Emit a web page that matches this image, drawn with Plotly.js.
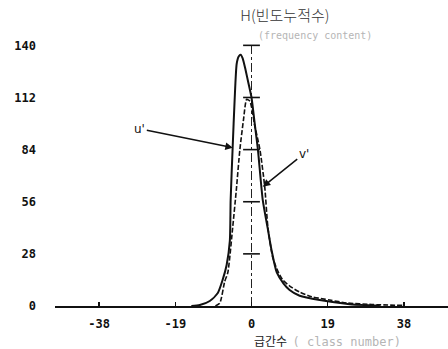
<!DOCTYPE html>
<html>
<head>
<meta charset="utf-8">
<script src="https://cdn.plot.ly/plotly-3.0.1.min.js"></script>
<style>
  html, body { margin: 0; padding: 0; background: #fff; }
  #chart { width: 448px; height: 349px; }
</style>
</head>
<body>
<div id="chart"></div>
<script>
// Class number (x) and cumulative frequency (y) for the two velocity components
const uClass = [-15, -12.9, -10.4, -8.4, -7.2, -6.2, -5.4, -5.2, -4.7, -4.2, -3.7, -3.2, -2.7, -2.2, -1.5, -0.8, 0, 0.8, 1.6, 2.8, 4.1, 5, 6.3, 8, 9.5, 12, 17, 24.5, 32];
const uFreq  = [0, 0.5, 2.7, 7, 14, 22, 35, 57, 85, 111, 130, 134, 135, 133, 127, 120, 112, 98, 84, 57, 41, 30, 18, 12, 8.6, 5.5, 3.2, 1, 0.2];

const vClass = [-9, -7.9, -6.7, -5.9, -4.7, -3.8, -2.9, -2, -1.2, -0.4, 0.8, 2.1, 3.3, 4.1, 5.3, 6.5, 7.8, 10, 12, 15, 19.5, 23.8, 30, 38];
const vFreq  = [0, 1.6, 13, 18, 42, 62, 84, 100, 111, 110, 97, 84, 64, 42, 26, 19, 14, 10, 7.5, 5, 3.2, 1.6, 0.8, 0.3];

// Axis ticks
const xTicks = [-38, -19, 0, 19, 38];
const xTickText = ['-38', '-19', '0', '19', '38'];
const yTicks = [0, 28, 56, 84, 112, 140];
const yTickText = ['0', '28', '56', '84', '112', '140'];

// Centre reference line and its scale marks
const centreX = [0, 0];
const centreY = [0, 140];
const markY = [28, 56, 84, 112, 140];

const traces = [
  {
    x: centreX, y: centreY, mode: 'lines', hoverinfo: 'skip',
    line: { color: '#222', width: 1, dash: 'dashdot' }
  },
  {
    x: markY.map(() => 0), y: markY, mode: 'markers', hoverinfo: 'skip',
    marker: { symbol: 'line-ew', size: 12, line: { color: '#111', width: 1.6 } }
  },
  {
    name: "u'", x: uClass, y: uFreq, mode: 'lines',
    line: { color: '#111', width: 2, shape: 'spline', smoothing: 0.6 }
  },
  {
    name: "v'", x: vClass, y: vFreq, mode: 'lines',
    line: { color: '#111', width: 1.6, dash: '5px,2px', shape: 'spline', smoothing: 0.6 }
  }
];

const monoFont = { family: 'DejaVu Sans Mono', size: 12, color: '#111', weight: 'bold' };

const layout = {
  width: 448, height: 349,
  margin: { l: 55, r: 0, t: 15, b: 43 },
  paper_bgcolor: '#fff', plot_bgcolor: '#fff',
  showlegend: false,
  title: {
    text: 'H(빈도누적수)',
    font: { family: 'Noto Sans CJK KR', size: 15, color: '#333', weight: 300 },
    x: 0.636, xanchor: 'center', xref: 'container',
    y: 0.955, yanchor: 'middle', yref: 'container'
  },
  xaxis: {
    range: [-49, 49],
    tickvals: xTicks, ticktext: xTickText,
    ticks: 'inside', ticklen: 4, tickwidth: 1.5, tickcolor: '#111',
    showline: true, linecolor: '#111', linewidth: 1.5,
    showgrid: false, zeroline: false,
    tickfont: monoFont, ticklabelstandoff: 6
  },
  yaxis: {
    range: [0, 156.3],
    tickvals: yTicks, ticktext: yTickText,
    ticks: '', showline: false, showgrid: false, zeroline: false,
    tickfont: monoFont, ticklabelstandoff: 18
  },
  annotations: [
    {
      x: -4.66, y: 85, xref: 'x', yref: 'y',
      text: "u'", showarrow: true, ax: -93, ay: -19,
      arrowhead: 2, arrowsize: 1, arrowwidth: 1.5, arrowcolor: '#111',
      font: { family: 'DejaVu Sans', size: 12, color: '#111' }
    },
    {
      x: 2.8, y: 64, xref: 'x', yref: 'y',
      text: "v'", showarrow: true, ax: 41, ay: -33,
      arrowhead: 2, arrowsize: 1, arrowwidth: 1.5, arrowcolor: '#111',
      font: { family: 'DejaVu Sans', size: 12, color: '#111' }
    },
    {
      x: 0.662, y: 0.931, xref: 'paper', yref: 'paper', xanchor: 'center', yanchor: 'middle',
      text: '(frequency content)', showarrow: false,
      font: { family: 'DejaVu Sans Mono', size: 10, color: '#b5b5b5' }
    },
    {
      x: 0.502, y: -0.12, xref: 'paper', yref: 'paper', xanchor: 'left', yanchor: 'middle',
      text: '<span style="color:#222">급간수</span>  <span style="color:#b5b5b5;font-size:12px;font-family:DejaVu Sans Mono">( class number)</span>',
      showarrow: false,
      font: { family: 'Noto Sans CJK KR', size: 12, color: '#222' }
    }
  ]
};

Plotly.newPlot('chart', traces, layout, { staticPlot: true, displayModeBar: false });
</script>
</body>
</html>
